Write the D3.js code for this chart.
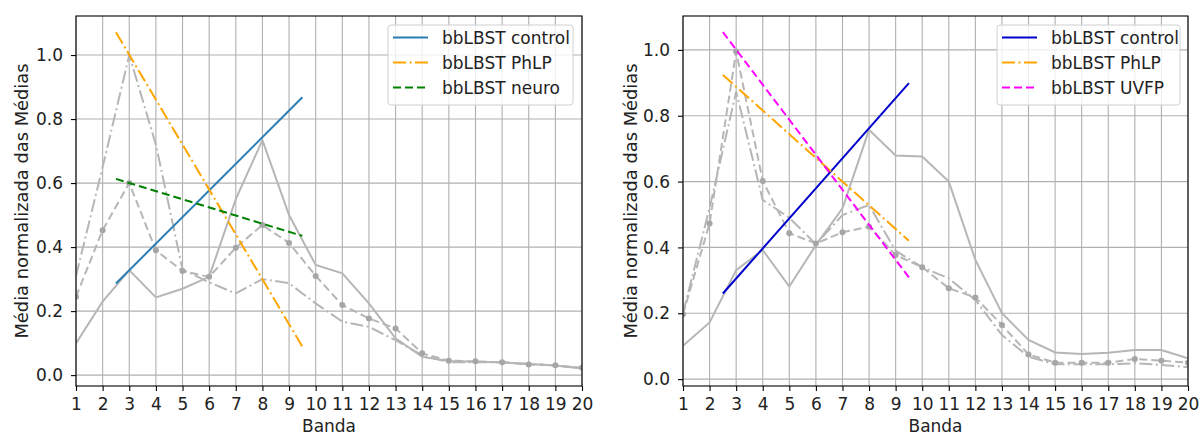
<!DOCTYPE html>
<html>
<head>
<meta charset="utf-8">
<script src="https://cdn.jsdelivr.net/npm/d3@7"></script>
<style>
  body { margin: 0; background: #fff; }
  text { font-family: "DejaVu Sans", sans-serif; fill: #222; }
</style>
</head>
<body>
<script>
// bands on the x axis
var bands = [1,2,3,4,5,6,7,8,9,10,11,12,13,14,15,16,17,18,19,20];
var xTicks = bands;
var yTicks = [0, 0.2, 0.4, 0.6, 0.8, 1.0];

// left panel, normalized means
var leftControl = [0.099,0.23,0.328,0.243,0.27,0.307,0.55,0.734,0.50,0.344,0.318,0.224,0.115,0.057,0.044,0.042,0.04,0.035,0.03,0.021];
var leftPhLP    = [0.31,0.65,1.0,0.72,0.33,0.29,0.255,0.30,0.287,0.224,0.167,0.151,0.109,0.062,0.04,0.04,0.04,0.035,0.03,0.022];
var leftNeuro   = [0.245,0.453,0.60,0.39,0.325,0.307,0.398,0.469,0.413,0.31,0.219,0.177,0.146,0.068,0.045,0.043,0.04,0.033,0.031,0.023];

// right panel, normalized means
var rightControl = [0.101,0.172,0.331,0.392,0.281,0.407,0.519,0.757,0.679,0.676,0.60,0.362,0.20,0.119,0.081,0.076,0.08,0.088,0.088,0.063];
var rightPhLP    = [0.20,0.52,0.873,0.544,0.49,0.41,0.498,0.529,0.39,0.34,0.306,0.24,0.134,0.068,0.045,0.045,0.045,0.048,0.043,0.036];
var rightUVFP    = [0.197,0.473,0.995,0.602,0.443,0.412,0.446,0.463,0.377,0.34,0.276,0.248,0.164,0.075,0.05,0.05,0.05,0.061,0.056,0.05];

// regression lines (ends)
var fitX = [2.5, 9.5];
var leftFitControl  = [0.286, 0.868];
var leftFitPhLP     = [1.071, 0.089];
var leftFitNeuro    = [0.613, 0.435];
var rightFitControl = [0.26, 0.899];
var rightFitPhLP    = [0.924, 0.42];
var rightFitUVFP    = [1.054, 0.309];

var W = 1200, H = 435;
var FS = 17;     // font size
var sy = 1.05;   // the picture text is a bit taller than wide
var DASH = "8,4", DASHDOT = "13,3.5,2,3.5";

var svg = d3.select("body").append("svg")
    .attr("width", W).attr("height", H);

function stretchText(sel) {
  // scale each text vertically around its own anchor
  sel.each(function() {
    var t = d3.select(this);
    var y = +t.attr("y") || 0;
    t.attr("transform", "translate(0," + y + ") scale(1," + sy + ") translate(0," + (-y) + ")");
  });
}

function drawPanel(cfg, idx) {
  var x = d3.scaleLinear().domain([1, 20]).range([cfg.left, cfg.right]);
  var y = d3.scaleLinear().domain(cfg.yDomain).range([cfg.bottom, cfg.top]);
  var g = svg.append("g");

  g.append("clipPath").attr("id", "clip" + idx)
    .append("rect")
    .attr("x", cfg.left).attr("y", cfg.top)
    .attr("width", cfg.right - cfg.left).attr("height", cfg.bottom - cfg.top);

  // grid
  g.append("g").selectAll("line").data(xTicks).enter().append("line")
    .attr("x1", d => x(d)).attr("x2", d => x(d))
    .attr("y1", cfg.top).attr("y2", cfg.bottom)
    .attr("stroke", "#b0b0b0").attr("stroke-width", 1.1);
  g.append("g").selectAll("line").data(yTicks).enter().append("line")
    .attr("x1", cfg.left).attr("x2", cfg.right)
    .attr("y1", d => y(d)).attr("y2", d => y(d))
    .attr("stroke", "#b0b0b0").attr("stroke-width", 1.1);

  var plot = g.append("g").attr("clip-path", "url(#clip" + idx + ")");
  var line = d3.line().x((d, i) => x(bands[i])).y(d => y(d));

  // gray measured curves
  cfg.gray.forEach(function(s) {
    plot.append("path").datum(s.values)
      .attr("d", line)
      .attr("fill", "none")
      .attr("stroke", "#b6b6b6")
      .attr("stroke-width", 2)
      .attr("stroke-dasharray", s.dash);
    if (s.markers) {
      plot.append("g").selectAll("circle").data(s.values).enter().append("circle")
        .attr("cx", (d, i) => x(bands[i])).attr("cy", d => y(d))
        .attr("r", 3).attr("fill", "#a6a6a6");
    }
  });

  // fitted lines
  var fitLine = d3.line().x((d, i) => x(fitX[i])).y(d => y(d));
  cfg.fits.forEach(function(f) {
    plot.append("path").datum(f.values)
      .attr("d", fitLine)
      .attr("fill", "none")
      .attr("stroke", f.color)
      .attr("stroke-width", 2)
      .attr("stroke-dasharray", f.dash);
  });

  // axes
  var xAxis = g.append("g")
    .attr("transform", "translate(0," + cfg.bottom + ")")
    .call(d3.axisBottom(x).tickValues(xTicks).tickFormat(d3.format("d")).tickSize(5).tickPadding(5));
  var yAxis = g.append("g")
    .attr("transform", "translate(" + cfg.left + ",0)")
    .call(d3.axisLeft(y).tickValues(yTicks).tickFormat(d3.format(".1f")).tickSize(5).tickPadding(8));
  [xAxis, yAxis].forEach(function(a) {
    a.select(".domain").remove();
    a.selectAll("line").attr("stroke", "#000").attr("stroke-width", 1.1);
    a.selectAll("text").attr("font-size", FS).attr("font-family", "DejaVu Sans").attr("fill", "#222");
  });
  xAxis.selectAll("text").attr("y", 11).attr("dy", "0.71em");
  stretchText(xAxis.selectAll("text"));
  stretchText(yAxis.selectAll("text").attr("y", 0));

  // frame
  g.append("rect")
    .attr("x", cfg.left).attr("y", cfg.top)
    .attr("width", cfg.right - cfg.left).attr("height", cfg.bottom - cfg.top)
    .attr("fill", "none").attr("stroke", "#000").attr("stroke-width", 1.1);

  // labels
  var bx = g.append("text")
    .attr("x", (cfg.left + cfg.right) / 2).attr("y", 432)
    .attr("text-anchor", "middle").attr("font-size", FS)
    .text("Banda");
  stretchText(bx);

  g.append("text")
    .attr("transform", "translate(" + cfg.ylabelX + "," + ((cfg.top + cfg.bottom) / 2) + ") scale(1," + sy + ") rotate(-90)")
    .attr("text-anchor", "middle").attr("dy", "0.35em").attr("font-size", FS)
    .text("Média normalizada das Médias");

  // legend
  var lg = g.append("g").attr("transform", "translate(" + cfg.legendX + ",25)");
  lg.append("rect")
    .attr("width", cfg.legendW).attr("height", 80).attr("rx", 3)
    .attr("fill", "#fff").attr("fill-opacity", 0.8)
    .attr("stroke", "#d0d0d0").attr("stroke-width", 1);
  cfg.fits.forEach(function(f, i) {
    var ry = 12.5 + i * 25;
    lg.append("line")
      .attr("x1", 5).attr("x2", 40).attr("y1", ry).attr("y2", ry)
      .attr("stroke", f.color).attr("stroke-width", 2)
      .attr("stroke-dasharray", f.dash);
    var t = lg.append("text")
      .attr("x", 54).attr("y", ry).attr("dy", "0.35em")
      .attr("font-size", FS)
      .text(f.name);
    t.attr("transform", "translate(0," + ry + ") scale(1," + sy + ") translate(0," + (-ry) + ")");
  });
}

drawPanel({
  left: 76, right: 582, top: 16, bottom: 386,
  yDomain: [-0.034, 1.122],
  ylabelX: 22, legendX: 388, legendW: 185,
  gray: [
    { values: leftControl, dash: null },
    { values: leftPhLP, dash: DASHDOT },
    { values: leftNeuro, dash: DASH, markers: true }
  ],
  fits: [
    { name: "bbLBST control", values: leftFitControl, color: "#2a7db3", dash: null },
    { name: "bbLBST PhLP", values: leftFitPhLP, color: "orange", dash: DASHDOT },
    { name: "bbLBST neuro", values: leftFitNeuro, color: "green", dash: DASH }
  ]
}, 0);

drawPanel({
  left: 683, right: 1188, top: 16, bottom: 386,
  yDomain: [-0.021, 1.103],
  ylabelX: 631, legendX: 997, legendW: 183,
  gray: [
    { values: rightControl, dash: null },
    { values: rightPhLP, dash: DASHDOT },
    { values: rightUVFP, dash: DASH, markers: true }
  ],
  fits: [
    { name: "bbLBST control", values: rightFitControl, color: "mediumblue", dash: null },
    { name: "bbLBST PhLP", values: rightFitPhLP, color: "orange", dash: DASHDOT },
    { name: "bbLBST UVFP", values: rightFitUVFP, color: "magenta", dash: DASH }
  ]
}, 1);
</script>
</body>
</html>
